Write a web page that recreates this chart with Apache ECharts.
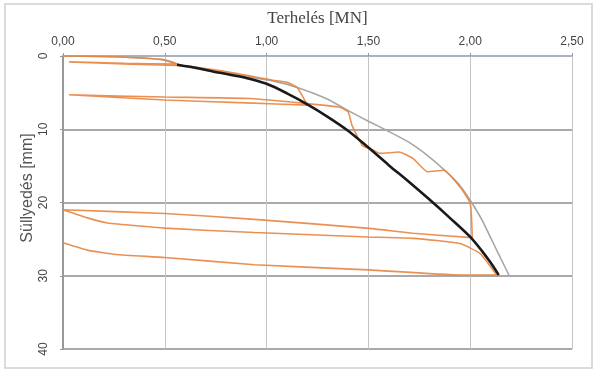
<!DOCTYPE html>
<html>
<head>
<meta charset="utf-8">
<script src="https://cdn.jsdelivr.net/npm/echarts@6/dist/echarts.min.js"></script>
<style>
  html, body { margin: 0; padding: 0; background: #fff; }
  #chart { width: 594px; height: 371px; }
</style>
</head>
<body>
<div id="chart"></div>
<script>
// terhelés [MN] / süllyedés [mm] pontok
const xTicks = [0, 0.5, 1.0, 1.5, 2.0, 2.5]
const yTicks = [0, 10, 20, 30, 40]

// szürke burkológörbe
const envLoad   = [0, 0.25, 0.49, 0.61, 0.77, 1.03, 1.15, 1.30, 1.39, 1.50, 1.60, 1.70, 1.80, 1.89, 1.95, 2.00, 2.06, 2.13, 2.19]
const envSettle = [0, 0.1, 0.5, 1.5, 2.2, 3.4, 4.3, 5.9, 7.3, 8.9, 10.3, 11.8, 13.8, 16.0, 17.7, 19.7, 22.5, 26.5, 29.9]

// fekete közelítő görbe
const fitLoad   = [0.56, 0.67, 0.77, 0.90, 1.00, 1.10, 1.20, 1.30, 1.40, 1.50, 1.60, 1.70, 1.80, 1.90, 2.00, 2.06, 2.10, 2.14]
const fitSettle = [1.2, 1.7, 2.3, 3.0, 3.8, 5.1, 6.6, 8.3, 10.2, 12.5, 14.9, 17.2, 19.6, 22.1, 24.7, 26.7, 28.2, 29.9]

// narancs mért terhelési ciklusok
const testLoad = [
  0, 0.25, 0.49, 0.56, 0.30, 0.03, 0.30, 0.57, 0.77, 1.03, 1.10, 1.15, 1.20,
  0.90, 0.50, 0.03, 0.50, 0.92, 1.20, 1.36, 1.40, 1.42, 1.47, 1.52, 1.557,
  1.65, 1.72, 1.79, 1.87, 1.95, 2.00, 2.01,
  1.72, 1.49, 0.94, 0.50, 0,
  0.12, 0.22, 0.50, 0.94, 1.50, 1.72, 1.95, 2.05, 2.13,
  1.95, 1.50, 0.94, 0.50, 0.26, 0.12, 0
]
const testSettle = [
  0, 0.1, 0.5, 1.1, 1.0, 0.8, 1.1, 1.3, 2.0, 3.3, 3.6, 4.3, 6.7,
  6.4, 6.0, 5.3, 5.6, 5.8, 6.5, 7.0, 7.6, 9.5, 12.2, 12.8, 13.3,
  13.1, 14.0, 15.8, 15.6, 17.9, 20.1, 24.8,
  24.2, 23.5, 22.3, 21.5, 21.0,
  22.1, 22.8, 23.5, 24.1, 24.7, 24.9, 25.6, 27.0, 29.9,
  29.9, 29.2, 28.5, 27.5, 27.1, 26.5, 25.5
]

const pairs = (xs, ys) => xs.map((x, i) => [x, ys[i]])

const chart = echarts.init(document.getElementById('chart'))

chart.setOption({
  animation: false,
  backgroundColor: '#fff',
  grid: { left: 63, top: 56, right: 22, bottom: 22 },
  graphic: [
    {
      type: 'rect',
      shape: { x: 5, y: 4, width: 587, height: 364 },
      style: { fill: 'none', stroke: '#cfcfcf', lineWidth: 1.5 },
      z: -1
    },
    {
      type: 'text',
      x: 28, y: 188,
      rotation: Math.PI / 2,
      style: {
        text: 'Süllyedés [mm]',
        font: '16px "Liberation Sans", Arial, sans-serif',
        fill: '#555',
        align: 'center',
        verticalAlign: 'middle'
      }
    }
  ],
  xAxis: {
    type: 'value',
    position: 'top',
    min: xTicks[0],
    max: xTicks[xTicks.length - 1],
    interval: 0.5,
    name: 'Terhelés [MN]',
    nameLocation: 'middle',
    nameGap: 29,
    nameTextStyle: { fontFamily: '"Liberation Serif", "Times New Roman", serif', fontSize: 17, color: '#444' },
    axisLine: { show: true, lineStyle: { color: '#a9b6c4', width: 1.5 } },
    axisTick: { show: true, length: 3, lineStyle: { color: '#999' } },
    axisLabel: {
      margin: 8,
      fontSize: 12,
      color: '#444',
      fontFamily: '"Liberation Sans", Arial, sans-serif',
      formatter: v => v.toFixed(2).replace('.', ',')
    },
    splitLine: { show: true, lineStyle: { color: '#c4c4c4', width: 1 } }
  },
  yAxis: {
    type: 'value',
    inverse: true,
    min: yTicks[0],
    max: yTicks[yTicks.length - 1],
    interval: 10,
    axisLine: { show: true, lineStyle: { color: '#999', width: 2 } },
    axisTick: { show: true, length: 3, lineStyle: { color: '#999' } },
    axisLabel: {
      rotate: 90,
      margin: 13,
      fontSize: 12,
      color: '#444',
      fontFamily: '"Liberation Sans", Arial, sans-serif'
    },
    splitLine: { show: true, lineStyle: { color: '#8c8c8c', width: 1.5 } }
  },
  series: [
    {
      name: 'burkoló',
      type: 'line',
      data: pairs(envLoad, envSettle),
      showSymbol: false,
      smooth: 0.2,
      lineStyle: { color: '#a6a6a6', width: 1.6 },
      z: 2
    },
    {
      name: 'mért',
      type: 'line',
      data: pairs(testLoad, testSettle),
      showSymbol: false,
      smooth: 0.15,
      lineStyle: { color: '#e8843f', width: 1.6, opacity: 0.9 },
      z: 3
    },
    {
      name: 'közelítés',
      type: 'line',
      data: pairs(fitLoad, fitSettle),
      showSymbol: false,
      smooth: 0.3,
      lineStyle: { color: '#1a1a1a', width: 2.6 },
      z: 4
    }
  ]
})
</script>
</body>
</html>
